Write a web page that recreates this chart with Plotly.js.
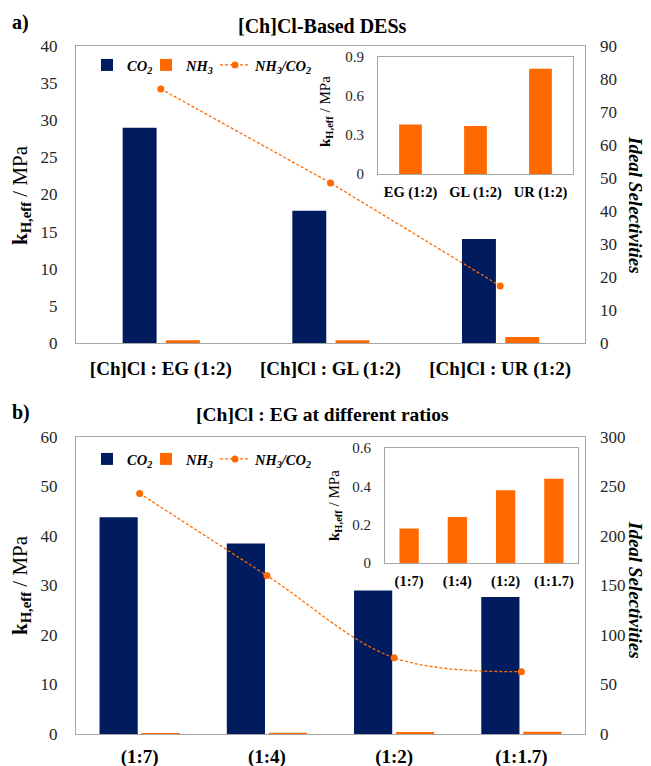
<!DOCTYPE html>
<html>
<head>
<meta charset="utf-8">
<script src="https://cdn.plot.ly/plotly-3.0.1.min.js"></script>
<style>html,body{margin:0;padding:0;background:#fff;}#chart{width:651px;height:766px;}</style>
</head>
<body>
<div id="chart"></div>
<script>
// ---- data ----
const catsA = ['[Ch]Cl : EG (1:2)', '[Ch]Cl : GL (1:2)', '[Ch]Cl : UR (1:2)'];
const co2A = [29.0, 17.8, 14.0];
const nh3A = [0.38, 0.37, 0.81];
const selA = [77.0, 48.5, 17.3];
const insetCatsA = ['EG (1:2)', 'GL (1:2)', 'UR (1:2)'];
const insetNh3A = [0.38, 0.37, 0.81];

const catsB = ['(1:7)', '(1:4)', '(1:2)', '(1:1.7)'];
const co2B = [43.8, 38.5, 29.0, 27.7];
const nh3B = [0.18, 0.24, 0.38, 0.44];
const selB = [243, 160, 77, 63];
const insetCatsB = ['(1:7)', '(1:4)', '(1:2)', '(1:1.7)'];
const insetNh3B = [0.18, 0.24, 0.38, 0.44];

// ---- styling ----
const W = 651, H = 766;
const NAVY = '#001c5f', ORANGE = '#ff6a00', FRAME = '#a6a6a6';
const SERIF = 'Liberation Serif';
const px = v => v / W;
const py = v => 1 - v / H;
const yd = (top, bottom) => [py(bottom), py(top)];

const tickFont = {family: SERIF, size: 17, color: '#262626'};
const catFont = {family: SERIF, size: 19, color: '#000', weight: 'bold'};
const insetTickFont = {family: SERIF, size: 15, color: '#262626'};
const insetCatFont = {family: SERIF, size: 14.5, color: '#000', weight: 'bold'};
const legendFont = {family: SERIF, size: 14.5, color: '#000'};

const nameCO2 = '<b><i>CO<sub>2</sub></i></b>';
const nameNH3 = '<b><i>NH<sub>3</sub></i></b>';
const nameSel = '<b><i>NH<sub>3</sub>/CO<sub>2</sub></i></b>';

const traces = [
  // panel a
  {type: 'bar', name: nameCO2, x: catsA, y: co2A, xaxis: 'x', yaxis: 'y',
   marker: {color: NAVY}, width: 0.2, offset: -0.225, legend: 'legend'},
  {type: 'bar', name: nameNH3, x: catsA, y: nh3A, xaxis: 'x', yaxis: 'y',
   marker: {color: ORANGE}, width: 0.2, offset: 0.03, legend: 'legend2'},
  {type: 'scatter', mode: 'lines+markers', name: nameSel, x: catsA, y: selA,
   xaxis: 'x', yaxis: 'y2', line: {color: ORANGE, width: 1.3, dash: '3px,2px'}, marker: {color: ORANGE, size: 7}, legend: 'legend3'},
  {type: 'bar', x: insetCatsA, y: insetNh3A, xaxis: 'x3', yaxis: 'y3', marker: {color: ORANGE}, width: 0.35, showlegend: false},
  // panel b
  {type: 'bar', name: nameCO2, x: catsB, y: co2B, xaxis: 'x4', yaxis: 'y4',
   marker: {color: NAVY}, width: 0.3, offset: -0.315, legend: 'legend4'},
  {type: 'bar', name: nameNH3, x: catsB, y: nh3B, xaxis: 'x4', yaxis: 'y4',
   marker: {color: ORANGE}, width: 0.3, offset: 0.015, legend: 'legend5'},
  {type: 'scatter', mode: 'lines+markers', name: nameSel, x: catsB, y: selB,
   xaxis: 'x4', yaxis: 'y5', line: {color: ORANGE, width: 1.3, dash: '3px,2px', shape: 'spline', smoothing: 1},
   marker: {color: ORANGE, size: 7}, legend: 'legend6'},
  {type: 'bar', x: insetCatsB, y: insetNh3B, xaxis: 'x6', yaxis: 'y6', marker: {color: ORANGE}, width: 0.4, showlegend: false}
];

function frameX(domain, anchor, font, standoff) {
  return {domain: domain, anchor: anchor, type: 'category', showline: true, mirror: true, linecolor: FRAME, linewidth: 1,
          ticks: '', showgrid: false, zeroline: false, tickfont: font, ticklabelstandoff: standoff, fixedrange: true};
}
function frameY(domain, anchor, range, dtick, font, standoff) {
  return {domain: domain, anchor: anchor, range: range, dtick: dtick, tick0: 0, showline: true, mirror: true, linecolor: FRAME,
          linewidth: 1, ticks: '', showgrid: false, zeroline: false, tickfont: font, ticklabelstandoff: standoff, fixedrange: true};
}
function legendAt(xp, yp) {
  return {orientation: 'h', x: px(xp), y: py(yp), xanchor: 'left', yanchor: 'top', bgcolor: 'rgba(0,0,0,0)',
          font: legendFont, itemwidth: 30, tracegroupgap: 0};
}

const layout = {
  width: W, height: H, autosize: false,
  margin: {l: 0, r: 0, t: 0, b: 0, pad: 0},
  paper_bgcolor: '#fff', plot_bgcolor: 'rgba(0,0,0,0)',
  barmode: 'group',
  font: {family: SERIF},
  // panel a
  xaxis: frameX([px(76), px(585)], 'y', catFont, 8),
  yaxis: frameY(yd(46, 343), 'x', [0, 40], 5, tickFont, 14),
  yaxis2: {overlaying: 'y', side: 'right', anchor: 'x', range: [0, 90], dtick: 10, tick0: 0, showline: false, showgrid: false,
           zeroline: false, ticks: '', tickfont: tickFont, ticklabelstandoff: 14, fixedrange: true},
  xaxis3: frameX([px(378), px(573)], 'y3', insetCatFont, 5),
  yaxis3: frameY(yd(57, 174), 'x3', [0, 0.9], 0.3, insetTickFont, 10),
  // panel b
  xaxis4: frameX([px(76), px(585)], 'y4', catFont, 5),
  yaxis4: frameY(yd(437, 734), 'x4', [0, 60], 10, tickFont, 14),
  yaxis5: {overlaying: 'y4', side: 'right', anchor: 'x4', range: [0, 300], dtick: 50, tick0: 0, showline: false, showgrid: false,
           zeroline: false, ticks: '', tickfont: tickFont, ticklabelstandoff: 14, fixedrange: true},
  xaxis6: frameX([px(385), px(578)], 'y6', insetCatFont, 5),
  yaxis6: frameY(yd(448, 563), 'x6', [0, 0.6], 0.2, insetTickFont, 10),
  legend: legendAt(87, 49),
  legend2: legendAt(146, 49),
  legend3: legendAt(215, 49),
  legend4: legendAt(87, 443),
  legend5: legendAt(146, 443),
  legend6: legendAt(215, 443),
  annotations: [
    {text: '<b>a)</b>', x: px(10), y: py(22), xref: 'paper', yref: 'paper', xanchor: 'left', yanchor: 'middle', showarrow: false,
     font: {family: SERIF, size: 20, color: '#000'}},
    {text: '<b>[Ch]Cl-Based DESs</b>', x: px(322), y: py(26), xref: 'paper', yref: 'paper', xanchor: 'center', yanchor: 'middle', showarrow: false,
     font: {family: SERIF, size: 20, color: '#000'}},
    {text: '<b>k<sub>H,eff</sub></b> / MPa', x: px(21), y: py(195), xref: 'paper', yref: 'paper', xanchor: 'center', yanchor: 'middle',
     textangle: -90, showarrow: false, font: {family: SERIF, size: 21, color: '#000'}},
    {text: '<b><i>Ideal Selectivities</i></b>', x: px(636), y: py(205), xref: 'paper', yref: 'paper', xanchor: 'center', yanchor: 'middle',
     textangle: 90, showarrow: false, font: {family: SERIF, size: 19, color: '#000'}},
    {text: '<b>k<sub>H,eff</sub></b> / MPa', x: px(326), y: py(112), xref: 'paper', yref: 'paper', xanchor: 'center', yanchor: 'middle',
     textangle: -90, showarrow: false, font: {family: SERIF, size: 15, color: '#000'}},

    {text: '<b>b)</b>', x: px(10), y: py(412), xref: 'paper', yref: 'paper', xanchor: 'left', yanchor: 'middle', showarrow: false,
     font: {family: SERIF, size: 20, color: '#000'}},
    {text: '<b>[Ch]Cl : EG at different ratios</b>', x: px(322), y: py(414), xref: 'paper', yref: 'paper', xanchor: 'center', yanchor: 'middle', showarrow: false,
     font: {family: SERIF, size: 19.5, color: '#000'}},
    {text: '<b>k<sub>H,eff</sub></b> / MPa', x: px(21), y: py(585), xref: 'paper', yref: 'paper', xanchor: 'center', yanchor: 'middle',
     textangle: -90, showarrow: false, font: {family: SERIF, size: 21, color: '#000'}},
    {text: '<b><i>Ideal Selectivities</i></b>', x: px(636), y: py(590), xref: 'paper', yref: 'paper', xanchor: 'center', yanchor: 'middle',
     textangle: 90, showarrow: false, font: {family: SERIF, size: 19, color: '#000'}},
    {text: '<b>k<sub>H,eff</sub></b> / MPa', x: px(335), y: py(505), xref: 'paper', yref: 'paper', xanchor: 'center', yanchor: 'middle',
     textangle: -90, showarrow: false, font: {family: SERIF, size: 15, color: '#000'}}
  ]
};

Plotly.newPlot('chart', traces, layout, {displayModeBar: false, staticPlot: true});
</script>
</body>
</html>
